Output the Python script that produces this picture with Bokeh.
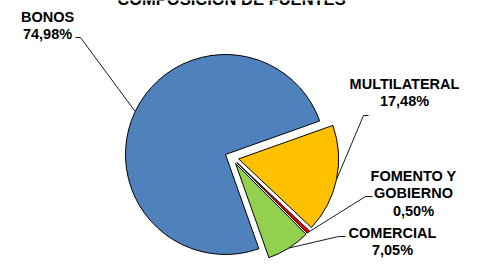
import math
from bokeh.plotting import figure
from bokeh.models import Range1d, ColumnDataSource
from bokeh.core.properties import value
from bokeh.embed import file_html
from bokeh.resources import INLINE

# ---------------- data ----------------
title_text = "COMPOSICIÓN DE FUENTES"
categories = ["BONOS", "MULTILATERAL", "FOMENTO Y GOBIERNO", "COMERCIAL"]
label_lines = [["BONOS"], ["MULTILATERAL"], ["FOMENTO Y", "GOBIERNO"], ["COMERCIAL"]]
shares = [74.98, 17.48, 0.50, 7.05]

# ---------------- style / layout ----------------
colors = ["#4F81BD", "#FFC000", "#FF0000", "#92D050"]
FIG_W, FIG_H = 461, 258
IMG_H = 274                      # reference pixel space (y downwards)
CX, CY = 231.3, 157.0            # pie centre (image px)
R = 100                          # pie radius (px)
EXPLODE = 7                      # slice explosion (px)
START_DEG = 289.5                # first slice start (math angle), slices run clockwise
FONT = value("Liberation Sans")
FSIZE = "14.5px"
LINE_STEP = 17.3
TEXT_DY = 4.5                    # compensation for the svg text baseline shift

# label anchor: centre x, first baseline y, leader (near-text point, bend point)
label_pos = [
    (47, 21, (75, 37), (80, 37)),
    (404, 88, (368, 115), (363, 115)),
    (413, 180, (372, 196), (365, 196)),
    (392, 237, (345, 236), (338, 236)),
]


def Y(y_img):
    return IMG_H - y_img


total = sum(shares)
starts, ends, wx, wy, mids = [], [], [], [], []
a = math.radians(START_DEG)
for s in shares:
    span = 2 * math.pi * s / total
    st, en = a - span, a
    mid = (st + en) / 2
    starts.append(st)
    ends.append(en)
    mids.append(mid)
    wx.append(CX + EXPLODE * math.cos(mid))
    wy.append(Y(CY) + EXPLODE * math.sin(mid))
    a = st

src = ColumnDataSource(dict(x=wx, y=wy, start=starts, end=ends, color=colors, cat=categories))

p = figure(width=FIG_W, height=FIG_H, output_backend="svg", toolbar_location=None,
           title=None, x_axis_location=None, y_axis_location=None,
           x_range=Range1d(0, FIG_W), y_range=Range1d(IMG_H - FIG_H, IMG_H),
           min_border=0, min_border_left=0, min_border_right=0,
           min_border_top=0, min_border_bottom=0)
p.grid.visible = False
p.outline_line_color = None
p.background_fill_color = "white"
p.border_fill_color = "white"

p.wedge(x="x", y="y", radius=R, start_angle="start", end_angle="end",
        direction="anticlock", fill_color="color", line_color="black",
        line_width=1, source=src)

# leader lines
for i, (cx_, by, p1, p2) in enumerate(label_pos):
    ex = wx[i] + R * math.cos(mids[i])
    ey = wy[i] + R * math.sin(mids[i])
    p.line([p1[0], p2[0], ex], [Y(p1[1]), Y(p2[1]), ey],
           line_color="#1a1a1a", line_width=1)

# labels
tx, ty, tt = [], [], []
for i, (cx_, by, p1, p2) in enumerate(label_pos):
    pct = f"{shares[i]:.2f}".replace(".", ",") + "%"
    lines = label_lines[i] + [pct]
    for j, ln in enumerate(lines):
        tx.append(cx_)
        ty.append(Y(by + j * LINE_STEP - TEXT_DY))
        tt.append(ln)
p.text(x=tx, y=ty, text=tt, text_font=FONT, text_font_style="bold",
       text_font_size=FSIZE, text_align="center", text_baseline="alphabetic",
       text_color="black")

# title (cut off at the top, as in the reference)
p.text(x=[231], y=[Y(3.0 - TEXT_DY)], text=[title_text], text_font=FONT,
       text_font_style="bold", text_font_size="16.5px", text_align="center",
       text_baseline="alphabetic", text_color="black")

open("out.html", "w").write(file_html(p, INLINE))
